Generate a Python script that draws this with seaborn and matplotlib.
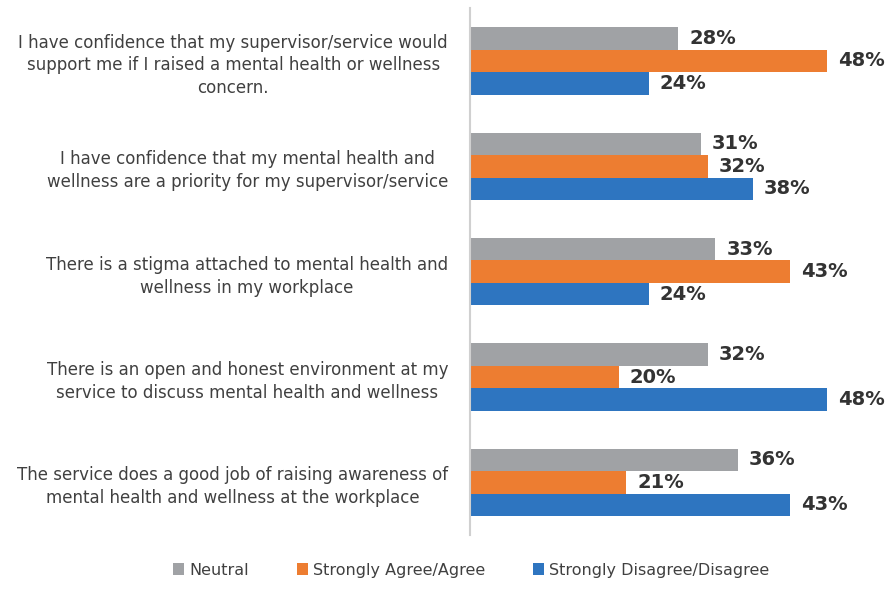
import matplotlib
matplotlib.use("Agg")
import matplotlib.pyplot as plt
import seaborn as sns
import pandas as pd

# Survey statements (y categories)
statements = [
    "I have confidence that my supervisor/service would\nsupport me if I raised a mental health or wellness\nconcern.",
    "I have confidence that my mental health and\nwellness are a priority for my supervisor/service",
    "There is a stigma attached to mental health and\nwellness in my workplace",
    "There is an open and honest environment at my\nservice to discuss mental health and wellness",
    "The service does a good job of raising awareness of\nmental health and wellness at the workplace",
]
series = ["Neutral", "Strongly Agree/Agree", "Strongly Disagree/Disagree"]
neutral = [28, 31, 33, 32, 36]
agree = [48, 32, 43, 20, 21]
disagree = [24, 38, 24, 48, 43]

colors = ["#A0A2A5", "#ED7D31", "#2E75C0"]

rows = []
for s, vals in zip(series, [neutral, agree, disagree]):
    for st, v in zip(statements, vals):
        rows.append({"Statement": st, "Response": s, "Pct": v})
df = pd.DataFrame(rows)

sns.set_style("white")
fig = plt.figure(figsize=(8.89, 5.92), dpi=100)
ax = fig.add_axes([0.529, 0.096, 0.468, 0.89])

sns.barplot(data=df, y="Statement", x="Pct", hue="Response", order=statements,
            hue_order=series, palette=colors, orient="h", width=0.64,
            saturation=1, linewidth=0, ax=ax)

for cont in ax.containers:
    ax.bar_label(cont, labels=[f"{int(v)}%" for v in cont.datavalues], padding=8,
                 fontsize=14, fontweight="bold", color="#333333")

ax.set_xlim(0, 56)
ax.set_xlabel("")
ax.set_ylabel("")
ax.set_xticks([])
ax.set_yticks(range(len(statements)))
ax.set_yticklabels(statements, multialignment="center", fontsize=12,
                   linespacing=1.35, color="#404040")
ax.tick_params(axis="y", length=0, pad=16)
for side in ["top", "right", "bottom"]:
    ax.spines[side].set_visible(False)
ax.spines["left"].set_color("#D0D0D0")
ax.spines["left"].set_linewidth(1.5)

handles, labels = ax.get_legend_handles_labels()
ax.legend_.remove()
fig.legend(handles, labels, loc="lower center", bbox_to_anchor=(0.53, 0.0), ncol=3,
           frameon=False, fontsize=11.5, handlelength=0.7, handleheight=0.7,
           columnspacing=3.0, handletextpad=0.3, labelcolor="#404040")

fig.savefig("out.png", dpi=100)
